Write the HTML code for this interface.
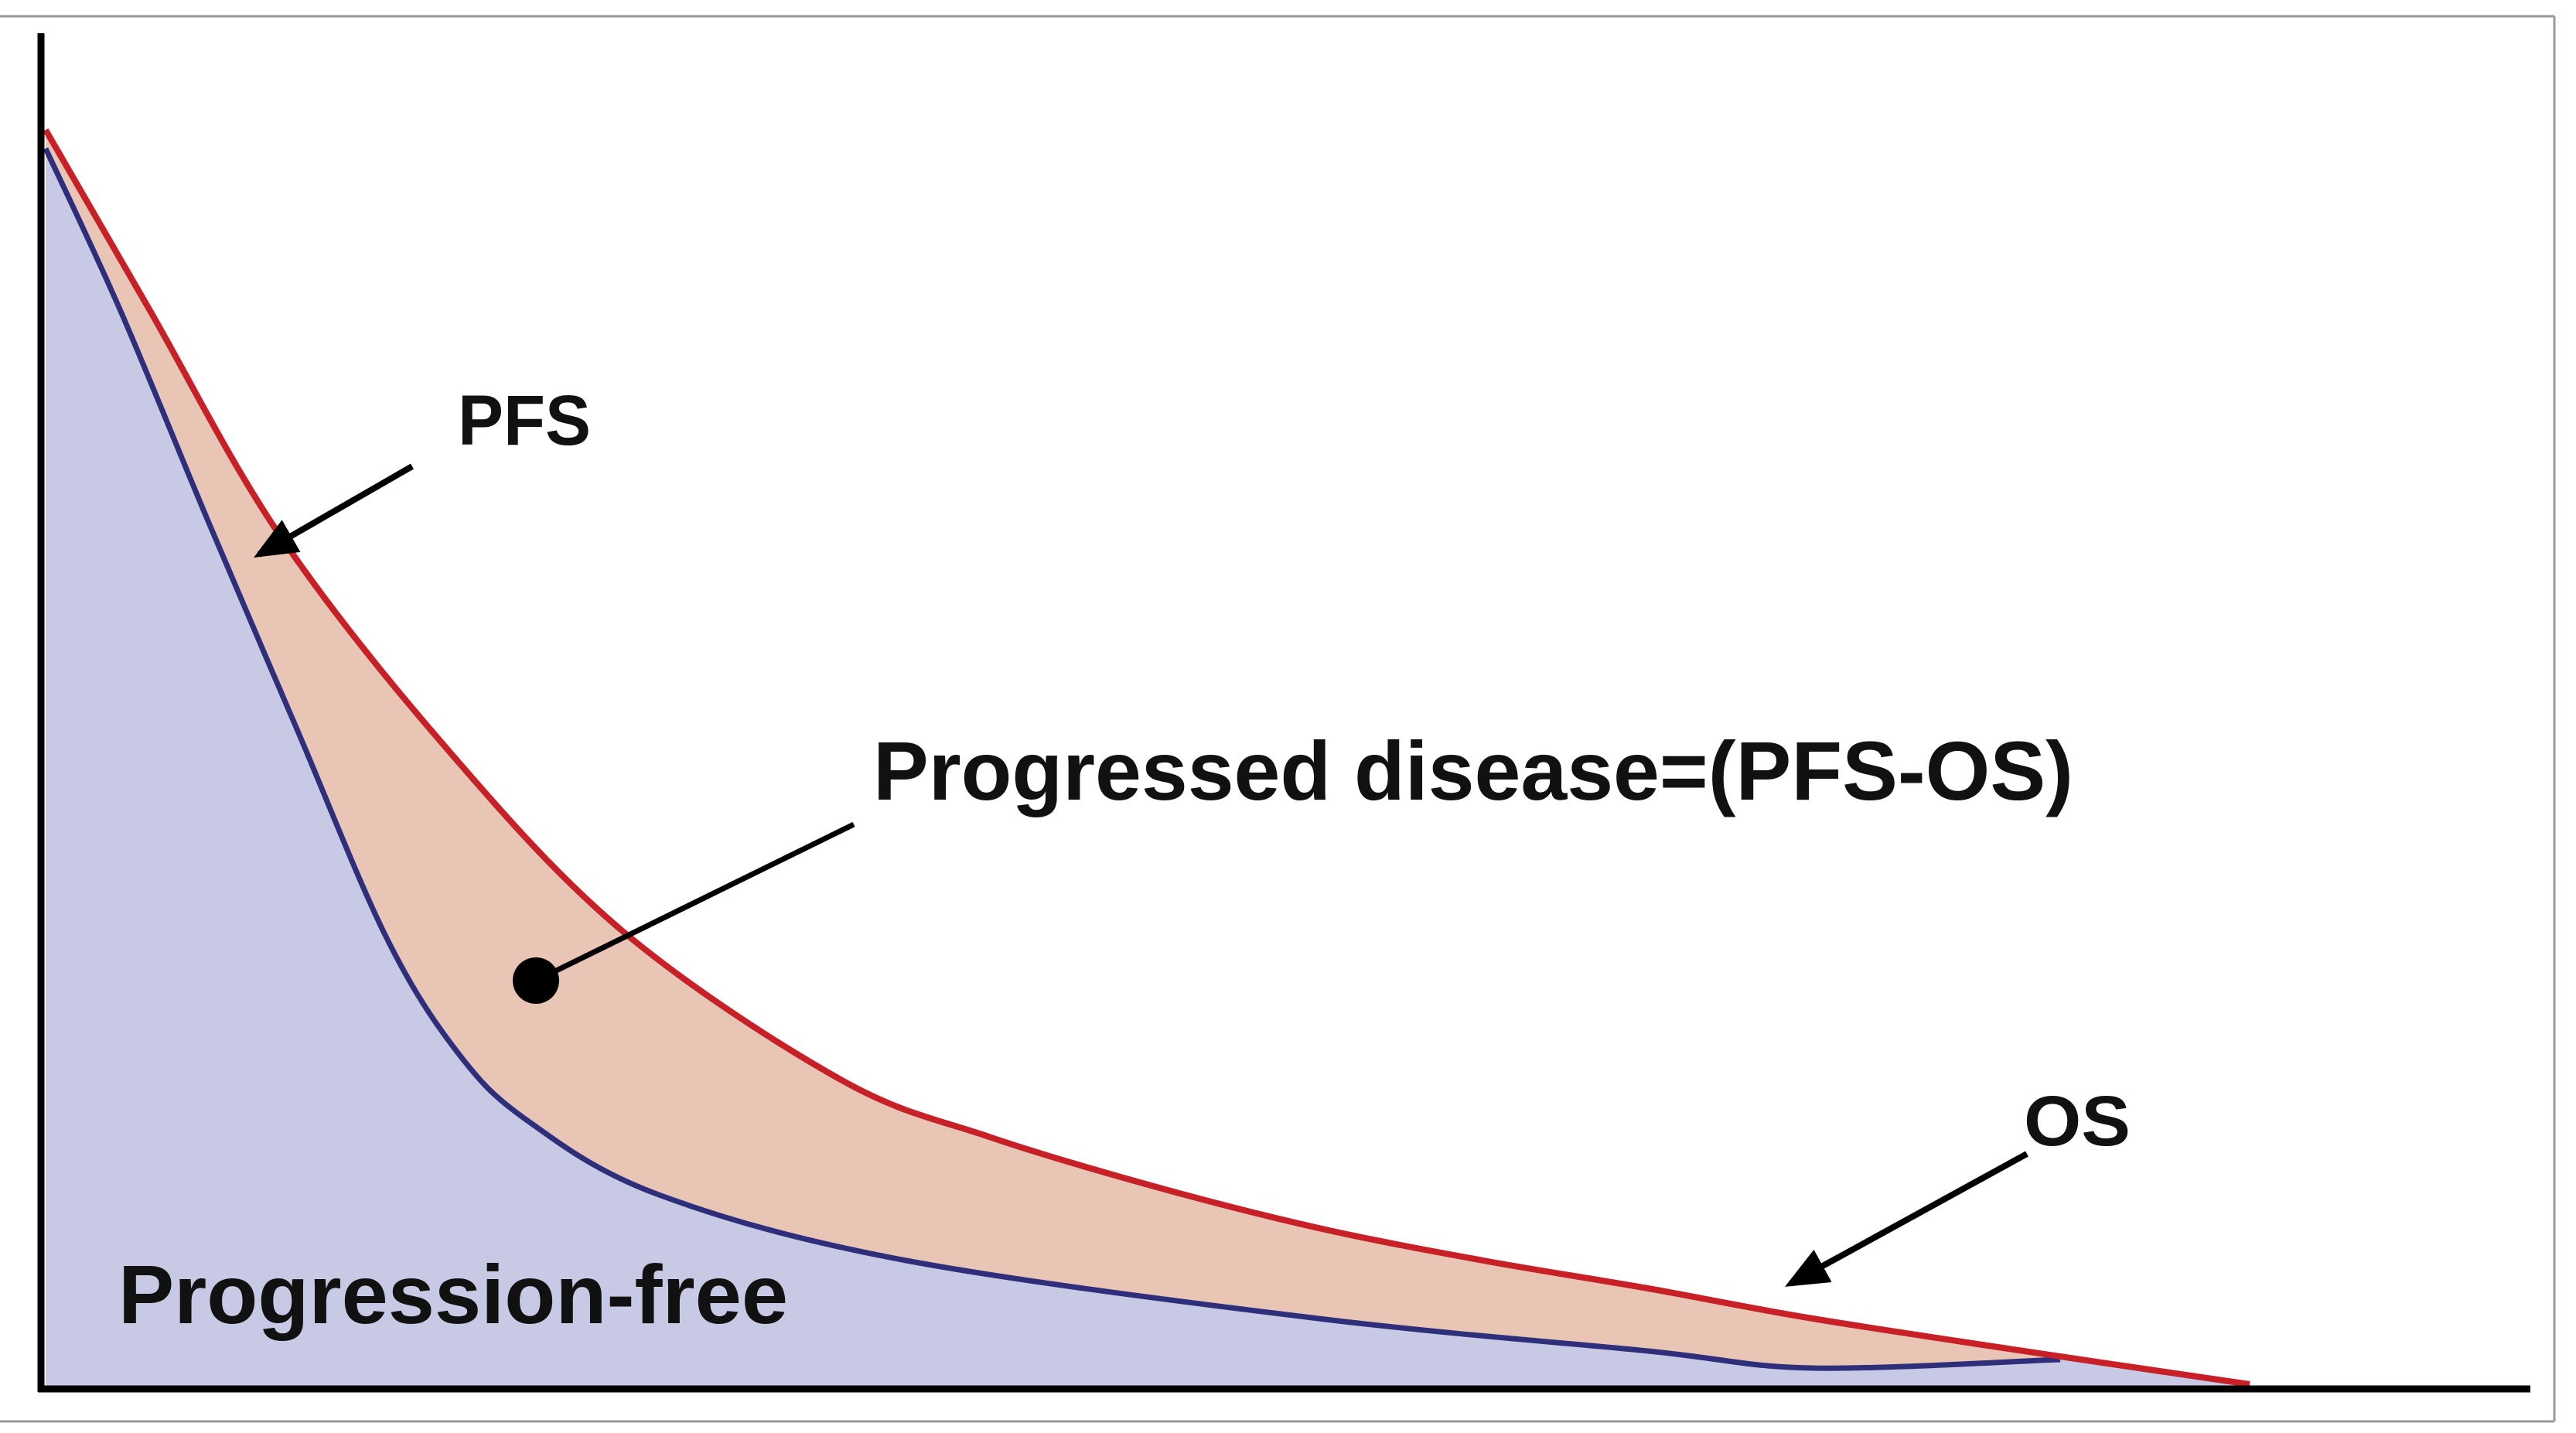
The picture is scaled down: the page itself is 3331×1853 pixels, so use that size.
<!DOCTYPE html>
<html><head><meta charset="utf-8"><style>html,body{margin:0;padding:0;background:#fff}svg{display:block}</style></head>
<body>
<svg width="3331" height="1853" viewBox="0 0 3331 1853" xmlns="http://www.w3.org/2000/svg">
<defs>
<marker id="ah" markerWidth="7" markerHeight="6" refX="6" refY="3" orient="auto" markerUnits="strokeWidth">
<path d="M0,0 L7,3 L0,6 Z" fill="#000"/></marker>
</defs>
<line x1="0" y1="21" x2="3303" y2="21" stroke="#999" stroke-width="3"/>
<line x1="3303" y1="21" x2="3303" y2="1838" stroke="#999" stroke-width="3"/>
<line x1="0" y1="1838" x2="3303" y2="1838" stroke="#999" stroke-width="3"/>
<path id="rfill" fill="#e9c5b5"/>
<path id="bfill" fill="#c8c9e4"/>
<path id="bline" fill="none" stroke="#2e2e7a" stroke-width="7" stroke-linejoin="round"/>
<path id="rline" fill="none" stroke="#c82027" stroke-width="8" stroke-linejoin="round"/>
<line x1="53" y1="43" x2="53" y2="1800" stroke="#000" stroke-width="9"/>
<line x1="49" y1="1796" x2="3272" y2="1796" stroke="#000" stroke-width="9"/>
<line x1="533" y1="603" x2="335" y2="717" stroke="#000" stroke-width="8" marker-end="url(#ah)"/>
<line x1="2621" y1="1492" x2="2315" y2="1660" stroke="#000" stroke-width="8" marker-end="url(#ah)"/>
<line x1="1104" y1="1066" x2="693" y2="1268" stroke="#000" stroke-width="7"/>
<circle cx="693" cy="1268" r="30" fill="#000"/>
<g font-family="Liberation Sans, sans-serif" font-weight="bold" fill="#111">
<text x="592" y="575" font-size="92" textLength="172" lengthAdjust="spacingAndGlyphs">PFS</text>
<text x="1129" y="1034" font-size="108" textLength="1552" lengthAdjust="spacingAndGlyphs">Progressed disease=(PFS-OS)</text>
<text x="2617" y="1481" font-size="92" textLength="138" lengthAdjust="spacingAndGlyphs">OS</text>
<text x="153" y="1711" font-size="108" textLength="866" lengthAdjust="spacingAndGlyphs">Progression-free</text>
</g>
</svg>
<script>
function cr(p){var d="M"+p[0][0]+","+p[0][1];for(var i=0;i<p.length-1;i++){var a=p[i-1]||p[i],b=p[i],c=p[i+1],e=p[i+2]||c;
d+=" C"+(b[0]+(c[0]-a[0])/6).toFixed(1)+","+(b[1]+(c[1]-a[1])/6).toFixed(1)+" "+(c[0]-(e[0]-b[0])/6).toFixed(1)+","+(c[1]-(e[1]-b[1])/6).toFixed(1)+" "+c[0]+","+c[1];}return d;}
var R=[[59,168],[193,400],[361,691],[576,966],[805,1204],[1087,1396],[1279,1470],[1492,1534],[1705,1588],[1918,1630],[2131,1666],[2344,1705],[2664,1754],[2909,1790]];
var B=[[59,192],[155,400],[270,676],[384,943],[499,1211],[591,1360],[682,1449],[852,1545],[1172,1630],[1705,1705],[2131,1747],[2344,1769],[2664,1758]];
var rd=cr(R),bd=cr(B);
document.getElementById("rline").setAttribute("d",rd);
document.getElementById("bline").setAttribute("d",bd);
document.getElementById("rfill").setAttribute("d",rd+" L2909,1796 L59,1796 Z");
document.getElementById("bfill").setAttribute("d",bd+" L2909,1790 L2909,1796 L59,1796 Z");
</script>
</body></html>
